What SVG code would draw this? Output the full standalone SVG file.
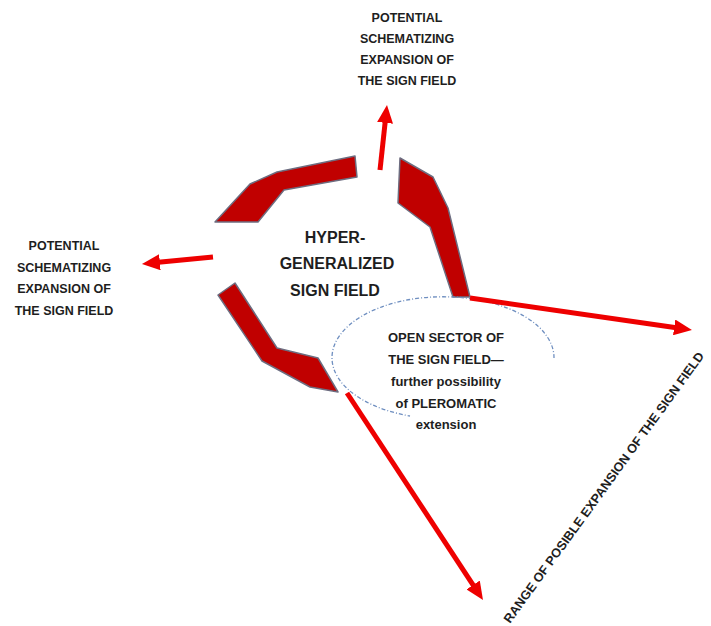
<svg xmlns="http://www.w3.org/2000/svg" width="711" height="626" viewBox="0 0 711 626">
  <style>
    .lbl { font-family: "Liberation Sans", Arial, sans-serif; font-weight: bold; fill: #1e1e1e; text-anchor: middle; }
    .s12 { font-size: 12.5px; }
    .s13 { font-size: 13px; }
    .s16 { font-size: 16px; }
    .seg { fill: #c00000; stroke: #6d6d80; stroke-width: 1.5; stroke-linejoin: round; }
    .arr { stroke: #ee0000; stroke-width: 5; fill: none; marker-end: url(#head); }
    .open { fill: none; stroke: #6f8fc0; stroke-width: 1.3; stroke-dasharray: 4 2 1 2; }
  </style>
  <defs>
    <marker id="head" viewBox="0 0 18 16" refX="4" refY="8" markerWidth="18" markerHeight="16" markerUnits="userSpaceOnUse" orient="auto">
      <path d="M0,0 L18,8 L0,16 z" fill="#ee0000"/>
    </marker>
  </defs>
  <rect width="711" height="626" fill="#ffffff"/>

  <g id="field-segments">
    <polygon id="seg-top-left" class="seg" points="215,222 250,184 277,172 355,156 357,177 284,190 258,222"/>
    <polygon id="seg-right" class="seg" points="400,158 433,177 448,208 470,297 453,297 430,227 398,203"/>
    <polygon id="seg-bottom-left" class="seg" points="235,283 277,348 318,358 338,392 310,387 262,361 218,295"/>
  </g>

  <g id="open-sector">
    <path class="open" d="M554,358 A111,61 0 1 0 410,416"/>
    <text class="lbl s13" x="446" y="342">OPEN SECTOR OF</text>
    <text class="lbl s13" x="446" y="364">THE SIGN FIELD—</text>
    <text class="lbl s13" x="446" y="386">further possibility</text>
    <text class="lbl s13" x="446" y="408">of PLEROMATIC</text>
    <text class="lbl s13" x="446" y="429">extension</text>
  </g>

  <g id="connectors">
    <line class="arr" x1="380" y1="170" x2="385.5" y2="118.9"/>
    <line class="arr" x1="213" y1="257" x2="155.9" y2="262.6"/>
    <line class="arr" x1="470" y1="298" x2="678.1" y2="328"/>
    <line class="arr" x1="347" y1="393" x2="475.3" y2="588.3"/>
  </g>

  <g id="center-label">
    <text class="lbl s16" x="335" y="243">HYPER-</text>
    <text class="lbl s16" x="337" y="269">GENERALIZED</text>
    <text class="lbl s16" x="335" y="296">SIGN FIELD</text>
  </g>

  <g id="top-label">
    <text class="lbl s12" x="407" y="22">POTENTIAL</text>
    <text class="lbl s12" x="407" y="43">SCHEMATIZING</text>
    <text class="lbl s12" x="407" y="64">EXPANSION OF</text>
    <text class="lbl s12" x="407" y="85">THE SIGN FIELD</text>
  </g>

  <g id="left-label">
    <text class="lbl s12" x="64" y="250">POTENTIAL</text>
    <text class="lbl s12" x="64" y="272">SCHEMATIZING</text>
    <text class="lbl s12" x="64" y="293">EXPANSION OF</text>
    <text class="lbl s12" x="64" y="315">THE SIGN FIELD</text>
  </g>

  <g id="range-label">
    <text class="lbl" style="text-anchor:start;font-size:12.8px" transform="translate(510,624) rotate(-54)">RANGE OF POSIBLE EXPANSION OF THE SIGN FIELD</text>
  </g>
</svg>
